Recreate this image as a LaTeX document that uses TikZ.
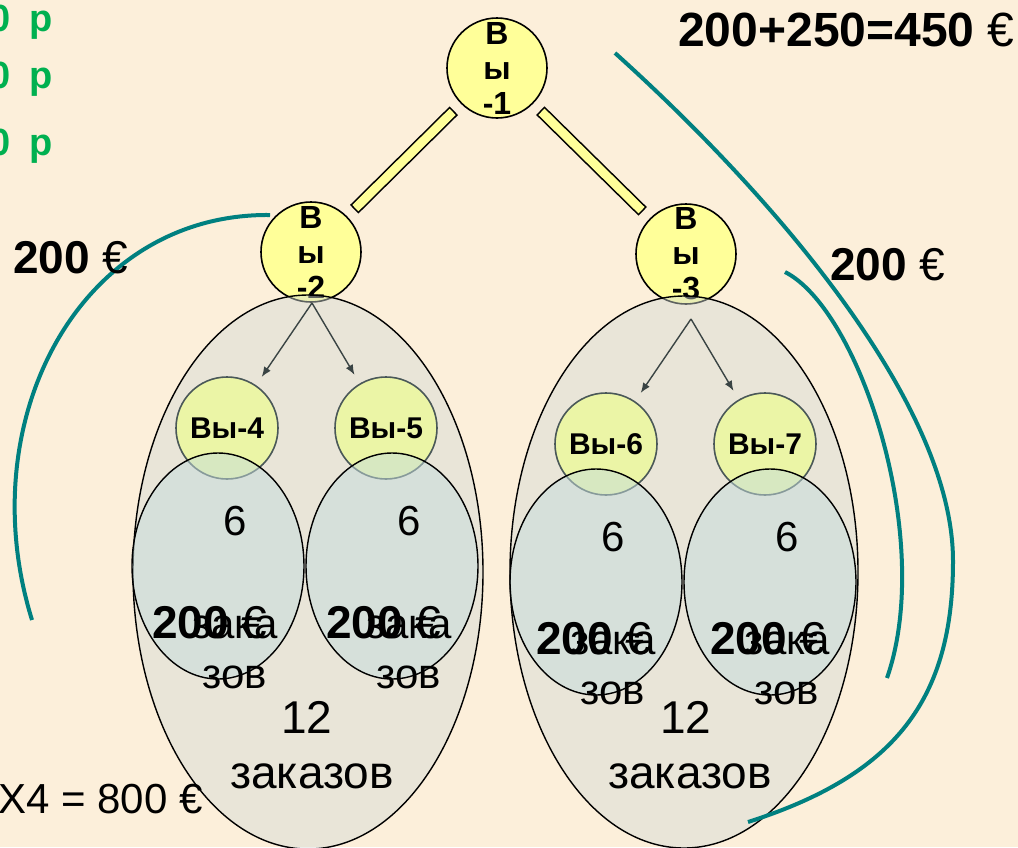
\documentclass[tikz,border=0pt]{standalone}
\usepackage{fontspec}
\setmainfont{Liberation Sans}
\usetikzlibrary{arrows.meta}

\definecolor{bgcream}{HTML}{FCEFDA}
\definecolor{topyellow}{HTML}{FFFF99}
\definecolor{subyellow}{HTML}{EBF5A6}
\definecolor{subedge}{HTML}{4A5858}
\definecolor{bigfill}{HTML}{D2DBD6}
\definecolor{innerfill}{HTML}{C4DCDC}
\definecolor{arcteal}{HTML}{008080}
\definecolor{pricegreen}{HTML}{00B050}
\definecolor{arrowgray}{HTML}{3A4444}

\begin{document}
\begin{tikzpicture}[x=0.5pt, y=-0.5pt,
    topnode/.style={circle, draw=black, line width=0.8pt, fill=topyellow, minimum size=50pt, inner sep=0pt},
    toptext/.style={align=center, inner sep=0pt, font=\bfseries\fontsize{16}{17.5}\selectfont},
    subnode/.style={circle, draw=subedge, line width=0.8pt, fill=subyellow, minimum size=51pt, inner sep=0pt, font=\bfseries\fontsize{15}{18}\selectfont},
    bar/.style={draw=black, line width=6pt, shorten <=5pt, shorten >=5pt, postaction={draw=topyellow, line width=4.4pt, shorten <=5.8pt, shorten >=5.8pt}},
    splitarrow/.style={draw=arrowgray, line width=0.7pt, shorten >=5pt, -{Latex[length=5pt, width=4pt]}},
    bigoval/.style={draw=black, line width=0.7pt, fill=bigfill, fill opacity=0.45},
    inneroval/.style={draw=black, line width=0.7pt, fill=innerfill, fill opacity=0.5},
    bracket/.style={draw=arcteal, line width=2pt},
    plain/.style={inner sep=0pt, font=\fontsize{21}{21}\selectfont},
    big/.style={inner sep=0pt, font=\fontsize{23}{23}\selectfont},
    sum/.style={inner sep=0pt, font=\bfseries\fontsize{23}{23}\selectfont},
    price/.style={inner sep=0pt, anchor=base east, text=pricegreen, font=\bfseries\fontsize{19}{19}\selectfont}
]
    % Background
    \fill[bgcream] (0,0) rectangle (1018,847);
    \useasboundingbox (0,0) rectangle (1018,847);

    % Prices at the left edge
    \node[price] (price1) at (53,31) {0\hspace{0.5em}р};
    \node[price] (price2) at (53,88) {0\hspace{0.5em}р};
    \node[price] (price3) at (53,155) {0\hspace{0.5em}р};

    % Top nodes
    \node[topnode, label={[toptext]center:В\\ы\\-1}] (v1) at (497,68) {};
    \node[topnode, label={[toptext]center:В\\ы\\-2}] (v2) at (311,252) {};
    \node[topnode, label={[toptext]center:В\\ы\\-3}] (v3) at (686,254) {};
    \draw[bar] (v1) -- (v2);
    \draw[bar] (v1) -- (v3);

    % Big groups
    \draw[bigoval] (308,572) ellipse [x radius=175, y radius=277];
    \draw[bigoval] (684,572) ellipse [x radius=174, y radius=276];

    % Split arrows
    \coordinate (s2) at (312,303);
    \coordinate (s3) at (691,319);
    \node[subnode] (v4) at (227,428) {Вы-4};
    \node[subnode] (v5) at (386,428) {Вы-5};
    \node[subnode] (v6) at (606,444) {Вы-6};
    \node[subnode] (v7) at (765,444) {Вы-7};
    \draw[splitarrow] (s2) -- (v4);
    \draw[splitarrow] (s2) -- (v5);
    \draw[splitarrow] (s3) -- (v6);
    \draw[splitarrow] (s3) -- (v7);

    % Small groups
    \foreach \cx/\cy/\dx [count=\i] in {218/566/66, 392/566/66, 596/582/60, 770/582/60} {
        \draw[inneroval] (\cx,\cy) ellipse [x radius=86, y radius=113];
        \node[plain, anchor=base] (six\i) at (\cx+17,\cy-31) {6};
        \node[plain, anchor=base] (zaka\i) at (\cx+17,\cy+72) {зака};
        \node[plain, anchor=base] (zov\i) at (\cx+17,\cy+122) {зов};
        \node[sum, anchor=base west] (fee\i) at (\cx-\dx,\cy+72) {200 {\mdseries €}};
    }

    % Totals of the big groups
    \node[big, anchor=base] (twelveL) at (307,733) {12};
    \node[big, anchor=base] (ordersL) at (312,788) {заказов};
    \node[big, anchor=base] (twelveR) at (686,733) {12};
    \node[big, anchor=base] (ordersR) at (690,788) {заказов};

    % Teal brackets
    \draw[bracket] (270,215) .. controls (80,213) and (-30,420) .. (32,620);
    \draw[bracket] (615,53) .. controls (765,188) and (953,400) .. (953,561)
                           .. controls (953,700) and (895,775) .. (748,822);
    \draw[bracket] (785,272) .. controls (860,310) and (935,540) .. (887,678);

    % Sums
    \node[sum, anchor=base east, font=\bfseries\fontsize{24}{24}\selectfont] (total) at (1015,46) {200+250=450 {\mdseries €}};
    \node[sum, anchor=base west] (leftsum) at (13,273) {200 {\mdseries €}};
    \node[sum, anchor=base west] (rightsum) at (830,280) {200 {\mdseries €}};
    \node[inner sep=0pt, anchor=base east, font=\fontsize{21}{21}\selectfont] (times) at (203,813) {X4 = 800 €};
\end{tikzpicture}
\end{document}
